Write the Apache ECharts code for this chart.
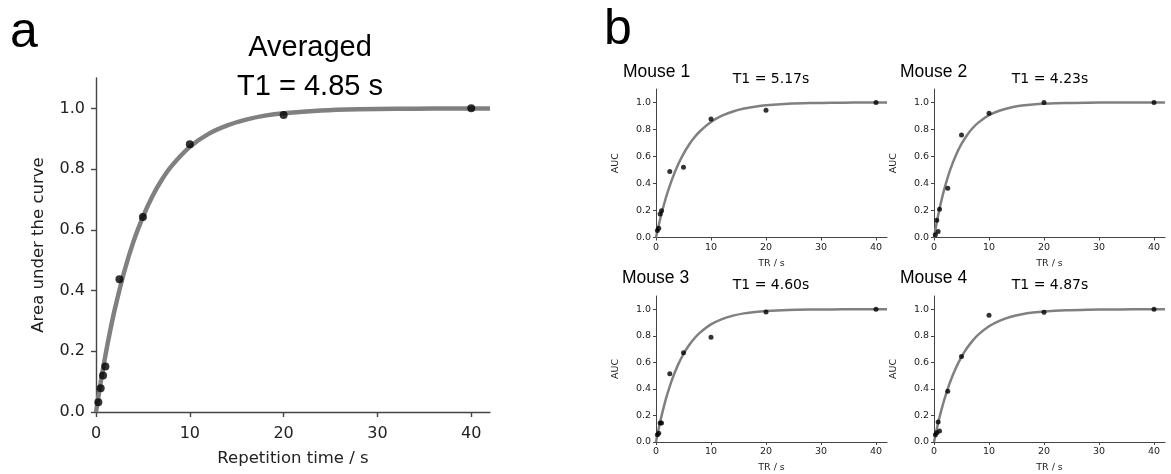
<!DOCTYPE html>
<html><head><meta charset="utf-8">
<script src="https://cdn.jsdelivr.net/npm/echarts@6/dist/echarts.min.js"></script>
<style>html,body{margin:0;padding:0;background:#fff}#c{width:1171px;height:474px}</style>
</head><body><div id="c"></div>
<script>
// ---- data ----
const trAvg = [0.25, 0.5, 0.75, 1, 2.5, 5, 10, 20, 40];
const aucAvg = [0.032, 0.078, 0.12, 0.15, 0.437, 0.642, 0.882, 0.978, 1.0];
const fitT = [0, 0.5, 1, 1.5, 2, 3, 4, 5, 6, 7, 8, 10, 12, 14, 16, 18, 20, 24, 28, 32, 36, 42];
const fitAvg = [0, 0.098, 0.186, 0.266, 0.338, 0.461, 0.562, 0.643, 0.710, 0.764, 0.808, 0.873, 0.916, 0.944, 0.963, 0.976, 0.984, 0.993, 0.997, 0.9986, 0.9994, 0.9998];

const trMouse = [0.25, 0.5, 0.75, 1, 2.5, 5, 10, 20, 40];
const aucM1 = [0.052, 0.069, 0.174, 0.199, 0.489, 0.521, 0.878, 0.943, 1.0];
const aucM2 = [0.02, 0.127, 0.045, 0.21, 0.365, 0.759, 0.921, 1.0, 1.0];
const aucM3 = [0.055, 0.065, 0.144, 0.144, 0.514, 0.672, 0.789, 0.98, 1.0];
const aucM4 = [0.055, 0.07, 0.15, 0.082, 0.382, 0.645, 0.955, 0.978, 1.0];
const fitM1 = [0, 0.092, 0.176, 0.252, 0.321, 0.440, 0.539, 0.620, 0.687, 0.742, 0.787, 0.855, 0.902, 0.933, 0.955, 0.969, 0.979, 0.990, 0.9956, 0.998, 0.9991, 0.9997];
const fitM2 = [0, 0.111, 0.211, 0.299, 0.377, 0.508, 0.612, 0.693, 0.758, 0.809, 0.849, 0.906, 0.941, 0.9635, 0.977, 0.986, 0.991, 0.9966, 0.9987, 0.9995, 0.9998, 1.0];
const fitM3 = [0, 0.103, 0.195, 0.278, 0.353, 0.479, 0.581, 0.663, 0.729, 0.782, 0.824, 0.886, 0.926, 0.952, 0.969, 0.980, 0.987, 0.9946, 0.9977, 0.999, 0.9996, 0.9999];
const fitM4 = [0, 0.0976, 0.186, 0.265, 0.337, 0.460, 0.560, 0.642, 0.708, 0.762, 0.807, 0.872, 0.915, 0.944, 0.9626, 0.975, 0.9835, 0.9928, 0.9968, 0.9986, 0.9994, 0.9998];

const mouseNames = ['Mouse 1', 'Mouse 2', 'Mouse 3', 'Mouse 4'];
const mouseT1 = ['T1 = 5.17s', 'T1 = 4.23s', 'T1 = 4.60s', 'T1 = 4.87s'];
const xTicks = [0, 10, 20, 30, 40];
const yTicks = [0, 0.2, 0.4, 0.6, 0.8, 1.0];
const xLabel = 'Repetition time / s';
const yLabel = 'Area under the curve';
const xLabelB = 'TR / s';
const yLabelB = 'AUC';

// ---- layout ----
const axisColor = '#444';
const tickFont = 'DejaVu Sans';
const grids = [
  {left: 96, top: 78, width: 394, height: 334},
  {left: 656, top: 89, width: 231, height: 148.5},
  {left: 934, top: 89, width: 231, height: 148.5},
  {left: 656, top: 296, width: 231, height: 148},
  {left: 934, top: 296, width: 231, height: 148}
];
const big = [true, false, false, false, false];
const pairs = (xs, ys) => xs.map((x, i) => [x, ys[i]]);
const fits = [fitAvg, fitM1, fitM2, fitM3, fitM4];
const pts = [aucAvg, aucM1, aucM2, aucM3, aucM4];
const trs = [trAvg, trMouse, trMouse, trMouse, trMouse];

const xAxes = [], yAxes = [], series = [];
grids.forEach((g, i) => {
  const b = big[i];
  const fs = b ? 16 : 9.5;
  xAxes.push({
    type: 'value', gridIndex: i, min: 0, max: 42,
    splitLine: {show: false},
    axisLine: {lineStyle: {color: axisColor, width: b ? 1.4 : 1}},
    axisTick: {show: true, length: b ? 5 : 3, customValues: xTicks, lineStyle: {color: axisColor, width: b ? 1.4 : 1}},
    axisLabel: {customValues: xTicks, fontFamily: tickFont, fontSize: fs, color: '#222', margin: b ? 14 : 5},
    name: b ? xLabel : xLabelB, nameLocation: 'middle', nameGap: b ? 38 : 21,
    nameTextStyle: {fontFamily: tickFont, fontSize: b ? 16.5 : fs, color: '#222'}
  });
  yAxes.push({
    type: 'value', gridIndex: i, min: 0, max: 1.1,
    splitLine: {show: false},
    axisLine: {show: true, lineStyle: {color: axisColor, width: b ? 1.4 : 1}},
    axisTick: {show: true, length: b ? 5 : 3, customValues: yTicks, lineStyle: {color: axisColor, width: b ? 1.4 : 1}},
    axisLabel: {customValues: yTicks, fontFamily: tickFont, fontSize: fs, color: '#222', margin: b ? 11 : 5,
      formatter: v => v.toFixed(1)},
    name: b ? yLabel : yLabelB, nameLocation: 'middle', nameGap: b ? 49 : 35,
    nameTextStyle: {fontFamily: tickFont, fontSize: b ? 16.5 : fs, color: '#222'}
  });
  series.push({
    type: 'line', xAxisIndex: i, yAxisIndex: i, data: pairs(fitT, fits[i]),
    smooth: 0.3, showSymbol: false, symbol: 'none',
    lineStyle: {color: '#808080', width: b ? 4.5 : 2.5}, z: 2, silent: true
  });
  series.push({
    type: 'scatter', xAxisIndex: i, yAxisIndex: i, data: pairs(trs[i], pts[i]),
    symbolSize: b ? 8 : 5, itemStyle: {color: '#000'}, z: 3, silent: true
  });
});

const graphic = [
  {type: 'text', left: 10, top: 8, style: {text: 'a', font: '50px "Liberation Sans"', fill: '#000'}},
  {type: 'text', left: 580 + 24, top: 5, style: {text: 'b', font: '50px "Liberation Sans"', fill: '#000'}},
  {type: 'text', x: 310, y: 48, style: {text: 'Averaged', font: '29px "Liberation Sans"', fill: '#000', align: 'center', verticalAlign: 'middle'}},
  {type: 'text', x: 310, y: 87, style: {text: 'T1 = 4.85 s', font: '29px "Liberation Sans"', fill: '#000', align: 'center', verticalAlign: 'middle'}}
];
const mpos = [[623, 72, 771, 79], [900, 72, 1050, 79], [622, 278, 771, 285], [900, 278, 1050, 285]];
mpos.forEach((p, i) => {
  graphic.push({type: 'text', x: p[0], y: p[1], style: {text: mouseNames[i], font: '17.5px "Liberation Sans"', fill: '#000', align: 'left', verticalAlign: 'middle'}});
  graphic.push({type: 'text', x: p[2], y: p[3], style: {text: mouseT1[i], font: '14px "DejaVu Sans"', fill: '#000', align: 'center', verticalAlign: 'middle'}});
});

const chart = echarts.init(document.getElementById('c'), null, {renderer: 'canvas'});
chart.setOption({
  animation: false,
  backgroundColor: '#fff',
  grid: grids,
  xAxis: xAxes,
  yAxis: yAxes,
  series: series,
  graphic: graphic
});
</script>
</body></html>
